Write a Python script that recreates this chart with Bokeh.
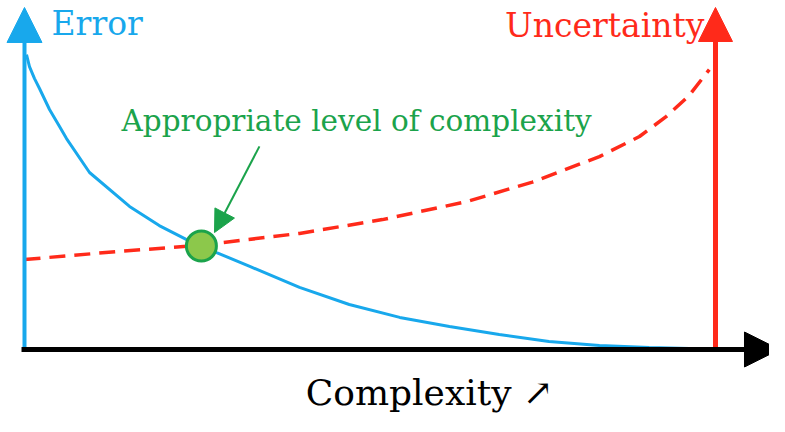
from bokeh.plotting import figure
from bokeh.models import Range1d, Arrow, NormalHead
from bokeh.core.properties import value
from bokeh.embed import file_html
from bokeh.resources import INLINE

# Conceptual data (complexity 0..100, error / uncertainty 0..100)
err_x = [0.29, 0.72, 1.45, 2.17, 3.62, 5.07, 6.08, 9.41, 15.2, 19.5, 23.4, 27.8,
         32.6, 39.8, 47.0, 54.3, 61.5, 68.7, 75.9, 83.2, 90.4, 96.2]
err_y = [98.3, 94.3, 90.3, 87.0, 80.0, 74.3, 70.3, 59.0, 47.7, 41.3, 36.7, 32.3,
         27.7, 20.7, 15.0, 10.7, 7.7, 5.0, 2.7, 1.3, 0.7, 0.3]

unc_x = [0.0, 13.7, 25.3, 39.8, 51.8, 64.0, 73.5, 83.2, 89.0, 92.9, 96.2, 99.1]
unc_y = [30.0, 32.7, 34.7, 38.7, 43.3, 49.3, 55.8, 64.3, 71.0, 77.7, 84.7, 93.3]

best_x = [25.6]
best_y = [34.5]

BLUE = "#18A8EC"
RED = "#FF2A1A"
GREEN = "#1BA34B"
FONT = "DejaVu Serif"

p = figure(width=769, height=416, output_backend="svg", toolbar_location=None,
           x_axis_type=None, y_axis_type=None,
           x_range=Range1d(-3.473, 107.815), y_range=Range1d(-22.33, 116.33),
           min_border=0)
p.outline_line_color = None
p.grid.visible = False
p.background_fill_color = "white"

# Curves
p.line(unc_x, unc_y, line_color=RED, line_width=3.5, line_dash="16 9")
p.line(err_x, err_y, line_color=BLUE, line_width=3)

# Texts
p.text(x=[3.91], y=[108.7], text=["Error"], text_color=BLUE, text_font=value(FONT),
       text_font_size="33px", text_baseline="alphabetic", text_align="left")
p.text(x=[98.4], y=[108.0], text=["Uncertainty"], text_color=RED, text_font=value(FONT),
       text_font_size="33px", text_baseline="alphabetic", text_align="right")
p.text(x=[14.04], y=[76.3], text=["Appropriate level of complexity"], text_color=GREEN,
       text_font=value(FONT), text_font_size="29.5px", text_baseline="alphabetic", text_align="left")
p.text(x=[58.6], y=[-14.2], text=["Complexity \u2197"], text_color="black",
       text_font=value(FONT), text_font_size="36px", text_baseline="alphabetic", text_align="center")

# Axes with arrows
p.add_layout(Arrow(end=NormalHead(size=35, fill_color=BLUE, line_color=BLUE),
                   x_start=0, y_start=0, x_end=0, y_end=114.0,
                   line_color=BLUE, line_width=4))
p.add_layout(Arrow(end=NormalHead(size=34, fill_color=RED, line_color=RED),
                   x_start=100.0, y_start=0, x_end=100.0, y_end=114.0,
                   line_color=RED, line_width=5))
p.add_layout(Arrow(end=NormalHead(size=35, fill_color="black", line_color="black"),
                   x_start=-0.43, y_start=0, x_end=109.26, y_end=0,
                   line_color="black", line_width=5))

# Annotation arrow
p.add_layout(Arrow(end=NormalHead(size=22, fill_color=GREEN, line_color=GREEN),
                   x_start=34.0, y_start=67.7, x_end=27.5, y_end=39.0,
                   line_color=GREEN, line_width=2))

# Best point
p.scatter(best_x, best_y, size=30, fill_color="#8CC84B", line_color=GREEN, line_width=3)

open("out.html", "w").write(file_html(p, INLINE))
